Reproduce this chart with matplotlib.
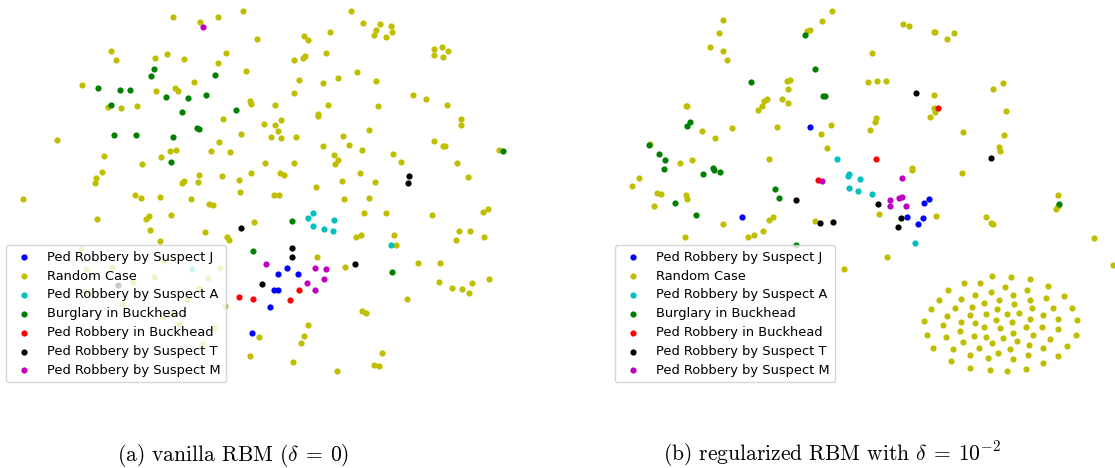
"""
rbm_embedding_scatter.py
------------------------
2-D embedding of crime case vectors learned by a vanilla RBM and by a
regularized RBM, coloured by case category.
"""

# ------------------------------------------------------------
# Imports
# ------------------------------------------------------------
import matplotlib
matplotlib.use("Agg")
import matplotlib.pyplot as plt

# ------------------------------------------------------------
# Embedding coordinates (x, y) per category
# ------------------------------------------------------------
CATEGORIES = [
    "Ped Robbery by Suspect J",
    "Random Case",
    "Ped Robbery by Suspect A",
    "Burglary in Buckhead",
    "Ped Robbery in Buckhead",
    "Ped Robbery by Suspect T",
    "Ped Robbery by Suspect M",
]
COLORS = ["b", "y", "c", "g", "r", "k", "m"]

# (a) vanilla RBM
vanilla_j = [(279, 273), (288, 268), (299, 273), (275, 289), (279, 289), (271, 306), (253, 332)]
vanilla_random = [
    (173, 17), (200, 22), (218, 17), (243, 11), (258, 39), (111, 51), (116, 60), (155, 58),
    (167, 54), (184, 59), (226, 53), (218, 63), (246, 71), (82, 85), (194, 82), (156, 91),
    (175, 88), (178, 91), (108, 107), (121, 108), (137, 106), (251, 101), (252, 104), (276, 105),
    (223, 119), (265, 124), (276, 125), (279, 131), (57, 140), (241, 134), (272, 137), (219, 142),
    (211, 151), (230, 152), (170, 151), (176, 150), (161, 157), (104, 156), (142, 164), (266, 163),
    (102, 172), (96, 178), (95, 183), (199, 175), (222, 176), (252, 173), (184, 181), (182, 183),
    (198, 182), (239, 180), (240, 192), (135, 195), (141, 198), (160, 197), (191, 199), (23, 199),
    (275, 195),
    (352, 11), (364, 23), (381, 24), (377, 30), (392, 26), (393, 32), (387, 37), (375, 35),
    (331, 32), (305, 36), (309, 40), (327, 53), (295, 60), (304, 58), (306, 56), (435, 49),
    (443, 47), (449, 51), (435, 55), (444, 57), (358, 72), (300, 80), (324, 83), (339, 78),
    (377, 81), (295, 93), (414, 95), (427, 99), (448, 105), (329, 105), (379, 106), (319, 114),
    (319, 116), (282, 120), (282, 138), (297, 137), (462, 119), (462, 125), (370, 130), (344, 136),
    (324, 146), (350, 145), (363, 150), (435, 141), (444, 146), (446, 146), (500, 150), (335, 155),
    (339, 160), (336, 164), (394, 154), (402, 162), (295, 163), (458, 163), (281, 173), (285, 175),
    (361, 173), (343, 181), (376, 182), (317, 187), (469, 177), (280, 195), (345, 199), (370, 198),
    (209, 204), (213, 205), (97, 219), (146, 219), (149, 216), (171, 215), (150, 230), (205, 232),
    (227, 237), (229, 240), (160, 241), (255, 222), (260, 336), (250, 355),
    (81, 249), (86, 269), (112, 267), (133, 281), (154, 276), (164, 261), (220, 268), (208, 277),
    (199, 287), (187, 299), (225, 305), (163, 316), (173, 313), (179, 323), (214, 327), (202, 343),
    (86, 290), (122, 303),
    (365, 213), (387, 213), (433, 215), (484, 212), (489, 209), (357, 237), (362, 235), (395, 235),
    (397, 245), (460, 231), (471, 231), (457, 240), (485, 237), (318, 257), (346, 267), (419, 263),
    (441, 263), (440, 281), (453, 287), (463, 288), (473, 282), (470, 292), (490, 278), (408, 298),
    (363, 310), (367, 312), (309, 324), (305, 335), (302, 342), (383, 352), (375, 364), (380, 365),
    (294, 361), (338, 370),
]
vanilla_a = [(314, 213), (309, 218), (335, 220), (314, 226), (325, 229), (334, 231), (392, 245), (192, 269)]
vanilla_burglary = [
    (154, 69), (151, 76), (215, 75), (98, 88), (120, 90), (130, 90), (166, 97), (188, 98),
    (206, 95), (111, 105), (182, 112), (236, 110), (197, 128), (199, 129), (114, 135), (136, 135),
    (173, 137), (171, 162), (504, 151), (254, 251), (293, 221), (393, 271),
]
vanilla_buckhead = [(239, 296), (254, 298), (300, 289), (291, 299)]
vanilla_t = [(410, 176), (409, 183), (241, 228), (263, 283), (293, 248), (293, 257), (356, 264), (118, 284)]
vanilla_m = [(203, 27), (267, 264), (316, 268), (327, 269), (325, 278), (308, 282), (316, 289)]

# (b) regularized RBM
reg_j = [(810, 127), (742, 217), (929, 199), (924, 203), (907, 217), (923, 218), (918, 224)]
reg_random = [
    (832, 12), (822, 22), (810, 31), (807, 32), (723, 21), (719, 34), (710, 48), (723, 52),
    (727, 61), (790, 81), (787, 82), (788, 90), (782, 100), (788, 104), (767, 100), (764, 102),
    (762, 107), (758, 111), (686, 107), (687, 107), (702, 131), (715, 138), (732, 128), (777, 127),
    (831, 125), (821, 134), (827, 148), (650, 144), (680, 163), (692, 160), (769, 159), (639, 178),
    (632, 186), (657, 193), (661, 194), (686, 195), (687, 199),
    (903, 25), (909, 27), (934, 33), (935, 33), (954, 34), (947, 40), (872, 54), (868, 83),
    (877, 82), (886, 82), (934, 96), (934, 109), (935, 113), (930, 117), (993, 90), (1003, 84),
    (1006, 112), (876, 118), (875, 122), (870, 130), (963, 132), (1004, 135), (999, 147), (1000, 151),
    (912, 168), (912, 170), (962, 173), (1058, 195),
    (654, 206), (723, 224), (769, 220), (773, 217), (748, 237), (754, 235), (763, 231), (685, 237),
    (815, 221), (879, 214), (936, 216), (986, 217), (991, 223), (993, 224), (1056, 209), (1058, 206),
    (1094, 238), (1113, 265), (887, 257), (844, 269),
    # dense cluster of random cases
    (992, 276), (1011, 277), (1030, 279), (964, 283), (980, 283), (1048, 286), (948, 290), (1005, 287),
    (1027, 290), (991, 292), (975, 295), (1013, 295), (1064, 296), (939, 300), (961, 299), (999, 300),
    (1030, 300), (1046, 298), (984, 303), (1014, 304), (931, 309), (955, 308), (972, 307), (997, 309),
    (1032, 308), (1053, 308), (1072, 308), (947, 316), (970, 315), (986, 314), (1007, 314), (1019, 313),
    (1043, 315), (924, 321), (961, 322), (975, 323), (996, 320), (1012, 322), (1030, 319), (1058, 319),
    (1077, 320), (943, 325), (960, 330), (984, 327), (1000, 328), (1026, 327), (1042, 327), (1058, 329),
    (927, 334), (946, 336), (974, 335), (986, 336), (1003, 337), (1013, 332), (1017, 340), (1033, 334),
    (1050, 338), (1076, 334), (963, 341), (992, 342), (1029, 344), (933, 347), (953, 348), (979, 347),
    (1010, 348), (1043, 347), (1067, 345), (998, 352), (1028, 354), (970, 354), (951, 360), (988, 357),
    (1013, 358), (1058, 355), (1043, 362), (970, 367), (990, 369), (1007, 370), (1026, 368),
]
reg_a = [(837, 159), (849, 174), (848, 176), (860, 179), (849, 188), (858, 191), (872, 194), (915, 243)]
reg_burglary = [
    (805, 36), (815, 70), (751, 83), (823, 97), (825, 97), (690, 122), (687, 126), (649, 145),
    (659, 154), (665, 160), (664, 169), (703, 174), (713, 168), (714, 170), (720, 172), (775, 189),
    (779, 198), (675, 203), (696, 215), (796, 245), (1059, 204),
]
reg_buckhead = [(818, 180), (938, 109), (876, 159)]
reg_t = [(796, 200), (916, 94), (991, 158), (820, 223), (833, 222), (878, 204), (901, 218), (898, 227)]
reg_m = [(822, 181), (902, 178), (890, 200), (890, 206), (899, 198), (902, 197), (906, 206)]

VANILLA = [vanilla_j, vanilla_random, vanilla_a, vanilla_burglary, vanilla_buckhead, vanilla_t, vanilla_m]
REGULARIZED = [reg_j, reg_random, reg_a, reg_burglary, reg_buckhead, reg_t, reg_m]

CAPTION_A = r"(a) vanilla RBM ($\delta\:=\:0$)"
CAPTION_B = r"(b) regularized RBM with $\delta\:=\:10^{-2}$"

# ------------------------------------------------------------
# Plotting
# ------------------------------------------------------------
plt.rcParams["mathtext.fontset"] = "cm"


def draw_panel(ax, groups):
    for pts, label, color in zip(groups, CATEGORIES, COLORS):
        xs = [p[0] for p in pts]
        ys = [p[1] for p in pts]
        ax.scatter(xs, ys, s=20, c=color, label=label, linewidths=0)
    ax.invert_yaxis()
    ax.axis("off")
    ax.legend(loc="lower left", fontsize=9.4, labelspacing=0.45)


fig = plt.figure(figsize=(11.15, 4.68), dpi=100)
ax_a = fig.add_axes([-0.0009, 0.1695, 0.4735, 0.8454])
ax_b = fig.add_axes([0.5453, 0.1695, 0.4744, 0.8454])

draw_panel(ax_a, VANILLA)
draw_panel(ax_b, REGULARIZED)

fig.text(0.2094, 0.015, CAPTION_A, ha="center", va="baseline", fontsize=15.5, family="cmr10")
fig.text(0.7462, 0.015, CAPTION_B, ha="center", va="baseline", fontsize=15.5, family="cmr10")

fig.savefig("out.png", dpi=100)
